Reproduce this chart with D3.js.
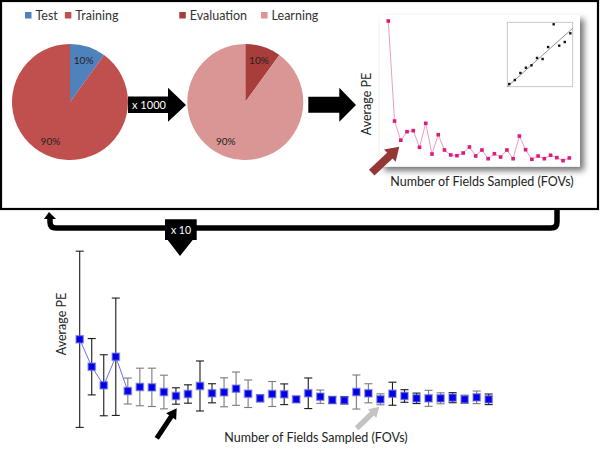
<!DOCTYPE html>
<html><head><meta charset="utf-8">
<script src="https://cdn.jsdelivr.net/npm/d3@7"></script>
<style>body{margin:0;background:#fff}svg{display:block;font-family:Lato,'Open Sans',sans-serif}</style>
</head><body><svg id="c" width="600" height="450"></svg>
<script>
// ---------- data ----------
const splitCategories = ["Test", "Training"];
const splitValues = [10, 90];
const innerCategories = ["Evaluation", "Learning"];
const innerValues = [10, 90];
const repeatLabel = "x 1000";
const cycleLabel = "x 10";

// one run: average PE per number of FOVs (1..30)
const singleRunPE = [9.6, 2.93, 1.65, 2.22, 2.29, 1.18, 2.78, 0.73, 2.02, 1.0,
  0.67, 0.62, 0.8, 1.2, 0.6, 1.0, 0.42, 0.75, 0.53, 1.0,
  0.42, 1.93, 1.02, 0.38, 0.6, 0.42, 0.65, 0.49, 0.29, 0.47];
// inset calibration scatter
const insetX = [1, 2, 3, 4, 5, 6, 7, 8, 9, 10, 11, 12];
const insetY = [0.42, 1.04, 2.13, 2.95, 3.32, 4.46, 4.3, 6.16, 9.69, 6.37, 6.94, 8.29];
const insetFitX = [0.64, 12.43];
const insetFitY = [0, 9.07];

// ten repeats: mean and SD of average PE per number of FOVs (1..35)
const meanPE = [10.08, 7.03, 4.97, 8.14, 4.33, 4.78, 4.74, 4.22, 3.78, 4.0,
  4.89, 4.08, 4.19, 4.59, 4.03, 3.52, 4.0, 3.97, 3.41, 4.08,
  3.7, 3.33, 3.3, 4.22, 4.08, 3.41, 4.03, 3.78, 3.52, 3.52,
  3.52, 3.59, 3.41, 3.63, 3.41];
const sdPE = [9.79, 3.13, 3.39, 6.52, 1.44, 2.09, 2.13, 1.87, 0.91, 1.02,
  2.78, 1.06, 1.61, 1.85, 1.53, 0.39, 1.39, 1.15, 0.3, 1.7,
  0.74, 0.35, 0.4, 1.89, 1.06, 0.61, 1.28, 0.7, 0.58, 0.89,
  0.61, 0.56, 0.46, 0.7, 0.59];
const xTitle = "Number of Fields Sampled (FOVs)";
const yTitle = "Average PE";
// styling list for error bar tone (dark / light)
const barTone = ["d","d","d","d","l","l","l","l","d","d","d","d","l","l","l","l","l","d","l","d",
  "l","d","d","l","l","l","d","d","d","l","l","d","l","l","d"];

// ---------- drawing ----------
const svg = d3.select("#c");
const defs = svg.append("defs");
const f = defs.append("filter").attr("id", "sh").attr("x", "-10%").attr("y", "-10%").attr("width", "130%").attr("height", "130%");
f.append("feDropShadow").attr("dx", 4).attr("dy", 4).attr("stdDeviation", 3).attr("flood-color", "#000").attr("flood-opacity", 0.55);

function blockArrow(x1, y1, x2, y2, sw, hw, hl) {
  const dx = x2 - x1, dy = y2 - y1, L = Math.hypot(dx, dy);
  const ux = dx / L, uy = dy / L, nx = -uy, ny = ux;
  const bx = x2 - ux * hl, by = y2 - uy * hl;
  const p = [[x1 + nx * sw / 2, y1 + ny * sw / 2], [bx + nx * sw / 2, by + ny * sw / 2], [bx + nx * hw / 2, by + ny * hw / 2],
    [x2, y2], [bx - nx * hw / 2, by - ny * hw / 2], [bx - nx * sw / 2, by - ny * sw / 2], [x1 - nx * sw / 2, y1 - ny * sw / 2]];
  return p.map(d => d.join(",")).join(" ");
}

// top frame
svg.append("rect").attr("x", 1).attr("y", 1).attr("width", 597).attr("height", 208)
  .attr("fill", "none").attr("stroke", "#000").attr("stroke-width", 2.2);

// pies
function drawPie(cx, cy, cats, vals, colors, legendX) {
  const pie = d3.pie().sort(null)(vals);
  const r = 58;
  const arc = d3.arc().innerRadius(0).outerRadius(r);
  const g = svg.append("g").attr("transform", `translate(${cx},${cy})`);
  g.selectAll("path").data(pie).join("path").attr("d", arc).attr("fill", (d, i) => colors[i]);
  const la = d3.arc().innerRadius(44).outerRadius(44);
  g.selectAll("text").data(pie).join("text")
    .attr("x", (d, i) => la.centroid(d)[0] + (i === 1 ? -6 : 0))
    .attr("y", (d, i) => la.centroid(d)[1] + (i === 1 ? -2 : 0))
    .attr("text-anchor", "middle").attr("dy", "0.35em").attr("font-size", 10).attr("fill", "#222")
    .text(d => d.value + "%");
  // legend
  let x = legendX;
  cats.forEach((c, i) => {
    svg.append("rect").attr("x", x).attr("y", 12).attr("width", 6.5).attr("height", 6.5).attr("fill", colors[i]);
    const t = svg.append("text").attr("x", x + 10.5).attr("y", 19.5).attr("font-size", 12.5).attr("fill", "#333").text(c);
    x += 10.5 + t.node().getComputedTextLength() + (legendX === 25 ? 7 : 14);
  });
}
drawPie(70, 102, splitCategories, splitValues, ["#4f81bd", "#c0504d"], 25);
drawPie(245.3, 102, innerCategories, innerValues, ["#a83d3b", "#d99694"], 179.3);

// x1000 arrow
svg.append("polygon").attr("points", "128,96.5 168,96.5 168,87.7 186,105 168,121.7 168,113 128,113").attr("fill", "#000");
svg.append("text").attr("x", 149).attr("y", 105).attr("dy", "0.35em").attr("text-anchor", "middle")
  .attr("font-size", 11).attr("fill", "#fff").text(repeatLabel);
// second arrow
svg.append("polygon").attr("points", "308.3,96.7 339.3,96.7 339.3,87.7 356,105 339.3,121.7 339.3,112.7 308.3,112.7").attr("fill", "#000");

// single-run chart panel
svg.append("rect").attr("x", 380).attr("y", 15).attr("width", 200).attr("height", 151.7)
  .attr("fill", "#fff").attr("filter", "url(#sh)");
const sx = d3.scaleLinear().domain([1, 30]).range([388.3, 569.3]);
const sy = d3.scaleLinear().domain([0, 10]).range([165, 15]);
svg.append("path").datum(singleRunPE)
  .attr("d", d3.line().x((d, i) => sx(i + 1)).y(d => sy(d)))
  .attr("fill", "none").attr("stroke", "#f49ac1").attr("stroke-width", 1);
svg.append("g").selectAll("rect").data(singleRunPE).join("rect")
  .attr("x", (d, i) => sx(i + 1) - 1.8).attr("y", d => sy(d) - 1.8)
  .attr("width", 3.6).attr("height", 3.6).attr("fill", "#e0197d");
// inset
const ix = d3.scaleLinear().domain([0.64, 12.43]).range([507.3, 572.7]);
const iy = d3.scaleLinear().domain([0, 10]).range([86.7, 22.3]);
svg.append("rect").attr("x", 507.3).attr("y", 22.3).attr("width", 65.4).attr("height", 64.4)
  .attr("fill", "#fff").attr("stroke", "#bbb").attr("stroke-width", 0.8);
svg.append("line").attr("x1", ix(insetFitX[0])).attr("y1", iy(insetFitY[0]))
  .attr("x2", ix(insetFitX[1])).attr("y2", iy(insetFitY[1])).attr("stroke", "#777").attr("stroke-width", 0.8);
svg.append("g").selectAll("rect").data(insetY).join("rect")
  .attr("x", (d, i) => ix(insetX[i]) - 1.2).attr("y", d => iy(d) - 1.2)
  .attr("width", 2.4).attr("height", 2.4).attr("fill", "#111");
svg.append("text").attr("transform", "translate(371,104) rotate(-90)").attr("text-anchor", "middle")
  .attr("font-size", 12.5).attr("fill", "#222").text(yTitle);
svg.append("text").attr("x", 482).attr("y", 186).attr("text-anchor", "middle")
  .attr("font-size", 12.5).attr("fill", "#222").text(xTitle);
svg.append("polygon").attr("points", blockArrow(371.7, 172.7, 399.3, 146.7, 8, 17, 13)).attr("fill", "#953735");

// loop connector
svg.append("path").attr("d", "M557,209 V222 Q557,228 551,228 H56 Q50,228 50,222 V218")
  .attr("fill", "none").attr("stroke", "#000").attr("stroke-width", 5.5);
svg.append("polygon").attr("points", "44,219 56,219 49,212").attr("fill", "#000");
// x10 arrow
svg.append("polygon").attr("points", "165,219.3 196.7,219.3 196.7,240 192.7,240 180,256 167.7,240 165,240").attr("fill", "#000");
svg.append("text").attr("x", 181).attr("y", 230.5).attr("dy", "0.35em").attr("text-anchor", "middle")
  .attr("font-size", 10.5).attr("fill", "#fff").text(cycleLabel);

// repeated-runs chart
const bx = d3.scaleLinear().domain([1, 35]).range([79.7, 488.7]);
const by = d3.scaleLinear().domain([0, 20]).range([430, 250]);
svg.append("path").datum(meanPE.slice(0, 5))
  .attr("d", d3.line().x((d, i) => bx(i + 1)).y(d => by(d)))
  .attr("fill", "none").attr("stroke", "#6e6ef5").attr("stroke-width", 1);
const eb = svg.append("g").selectAll("g").data(meanPE).join("g")
  .attr("stroke", (d, i) => barTone[i] === "d" ? "#1a1a1a" : "#7a7a7a").attr("stroke-width", 1.1);
eb.append("line").attr("x1", (d, i) => bx(i + 1)).attr("x2", (d, i) => bx(i + 1))
  .attr("y1", (d, i) => by(d + sdPE[i])).attr("y2", (d, i) => by(d - sdPE[i]));
eb.append("line").attr("x1", (d, i) => bx(i + 1) - 4).attr("x2", (d, i) => bx(i + 1) + 4)
  .attr("y1", (d, i) => by(d + sdPE[i])).attr("y2", (d, i) => by(d + sdPE[i]));
eb.append("line").attr("x1", (d, i) => bx(i + 1) - 4).attr("x2", (d, i) => bx(i + 1) + 4)
  .attr("y1", (d, i) => by(d - sdPE[i])).attr("y2", (d, i) => by(d - sdPE[i]));
svg.append("g").selectAll("rect").data(meanPE).join("rect")
  .attr("x", (d, i) => bx(i + 1) - 3.6).attr("y", d => by(d) - 3.6)
  .attr("width", 7.2).attr("height", 7.2).attr("fill", "#0000e8")
  .attr("stroke", "rgba(110,110,220,0.55)").attr("stroke-width", 1.6);
svg.append("text").attr("transform", "translate(66,324) rotate(-90)").attr("text-anchor", "middle")
  .attr("font-size", 12.5).attr("fill", "#222").text(yTitle);
svg.append("text").attr("x", 316).attr("y", 442).attr("text-anchor", "middle")
  .attr("font-size", 12.5).attr("fill", "#222").text(xTitle);
svg.append("polygon").attr("points", blockArrow(156.7, 438.3, 176.7, 408.3, 5, 12, 10)).attr("fill", "#000");
svg.append("polygon").attr("points", blockArrow(356.7, 428.3, 379.3, 406.7, 5.5, 12, 10)).attr("fill", "#c3c3c3");
</script></body></html>
